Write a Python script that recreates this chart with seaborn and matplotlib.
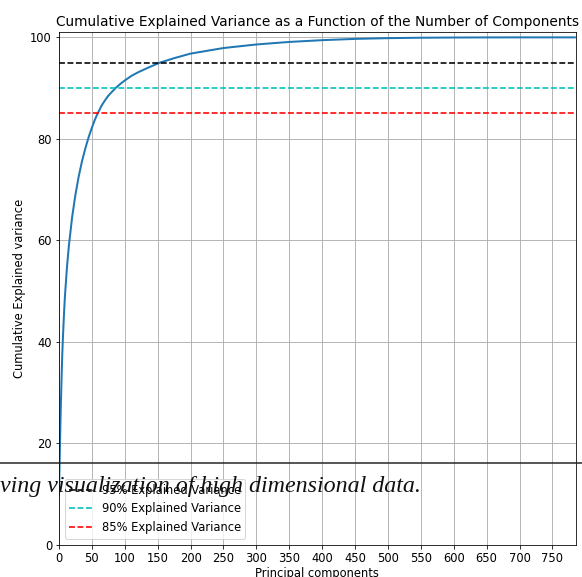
import matplotlib
matplotlib.use("Agg")
import matplotlib.pyplot as plt
from matplotlib.lines import Line2D
import seaborn as sns
import pandas as pd

# Cumulative explained variance (%) of PCA on 784-dimensional image data
n_components = [0, 1, 2, 3, 4, 5, 6, 7, 8, 9, 12, 15, 20, 25, 30, 35, 40, 45,
                50, 54, 58, 65, 70, 75, 80, 86, 93, 100, 110, 120, 135, 153,
                175, 200, 250, 300, 350, 400, 450, 500, 550, 600, 650, 700, 784]
cum_variance = [9.7, 16.8, 23.0, 28.4, 33.3, 37.6, 40.9, 43.8, 46.5, 48.9,
                54.5, 58.9, 64.6, 69.0, 72.6, 75.6, 78.1, 80.3, 82.2, 83.6,
                84.8, 86.6, 87.6, 88.5, 89.2, 90.0, 90.8, 91.5, 92.4, 93.1,
                94.0, 95.0, 95.9, 96.8, 97.9, 98.6, 99.1, 99.45, 99.7, 99.85,
                99.93, 99.97, 99.99, 100.0, 100.0]

thresholds = [95, 90, 85]
threshold_colors = ["k", "c", "r"]
threshold_labels = ["95% Explained Variance", "90% Explained Variance",
                    "85% Explained Variance"]

caption = "ving visualization of high dimensional data."

df = pd.DataFrame({"components": n_components, "variance": cum_variance})

W, H, DPI = 582, 577, 72
fig = plt.figure(figsize=(W / DPI, H / DPI), dpi=DPI)
ax = fig.add_axes([59 / W, 1 - 544.5 / H, (575.5 - 59) / W, (544.5 - 32.3) / H])

sns.lineplot(data=df, x="components", y="variance", ax=ax,
             color="#1f77b4", linewidth=2)
for t, c, lab in zip(thresholds, threshold_colors, threshold_labels):
    ax.axhline(t, color=c, linestyle="--", linewidth=1.6, label=lab)

ax.set_xlim(0, 785)
ax.set_ylim(0, 101)
ax.set_xticks(range(0, 751, 50))
ax.set_yticks(range(0, 101, 20))
ax.grid(True, color="#b0b0b0", linewidth=0.9)
ax.set_axisbelow(True)
ax.set_xlabel("Principal components", fontsize=11.5, labelpad=3)
ax.set_ylabel("Cumulative Explained variance", fontsize=11.5)
ax.set_title("Cumulative Explained Variance as a Function of the Number of Components",
             fontsize=13.8, pad=6)
ax.tick_params(labelsize=11.5)
ax.legend(loc="lower left", fontsize=11.5)

# page rule and running text laid over the figure
fig.add_artist(Line2D([0, 1], [1 - 462.5 / H, 1 - 462.5 / H],
                      transform=fig.transFigure, color="#222222", linewidth=1.5))
fig.text(0.0, 1 - 492 / H, caption, family="Liberation Serif", style="italic",
         fontsize=24, ha="left", va="baseline", color="#111111")

fig.savefig("out.png", dpi=DPI)
